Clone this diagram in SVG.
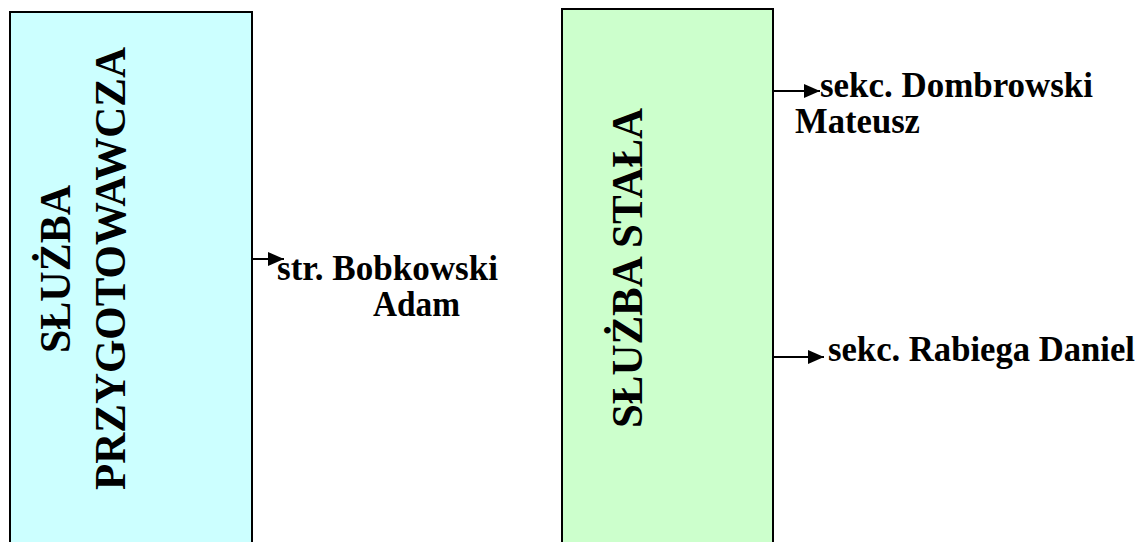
<svg xmlns="http://www.w3.org/2000/svg" width="1142" height="542" viewBox="0 0 1142 542">
<style>
.box{stroke:#000;stroke-width:2}
.title{font-family:"Liberation Serif","Times New Roman",serif;font-weight:bold;font-size:45px;fill:#000;text-anchor:middle}
.lbl{font-family:"Liberation Serif","Times New Roman",serif;font-weight:bold;font-size:35px;fill:#000}
.conn{stroke:#000;stroke-width:2;fill:none}
</style>
<defs>
<marker id="ah" markerUnits="userSpaceOnUse" markerWidth="16" markerHeight="14" refX="16" refY="7" orient="auto">
<path d="M0,0 L16,7 L0,14 Z" fill="#000"/>
</marker>
</defs>
<rect width="1142" height="542" fill="#fff"/>
<g id="node-przygotowawcza">
<rect class="box" x="10" y="12" width="242" height="540" fill="#CCFFFF"/>
<text class="title" transform="translate(70,269) rotate(-90)" textLength="168" lengthAdjust="spacingAndGlyphs">SŁUŻBA</text>
<text class="title" transform="translate(125,268.5) rotate(-90)" textLength="443" lengthAdjust="spacingAndGlyphs">PRZYGOTOWAWCZA</text>
</g>
<g id="node-stala">
<rect class="box" x="562" y="9" width="211" height="543" fill="#CCFFCC"/>
<text class="title" transform="translate(642,268) rotate(-90)" textLength="320" lengthAdjust="spacingAndGlyphs">SŁUŻBA STAŁA</text>
</g>
<g id="node-bobkowski">
<text class="lbl" x="277" y="280" textLength="221" lengthAdjust="spacingAndGlyphs">str. Bobkowski</text>
<text class="lbl" x="373" y="316" textLength="87" lengthAdjust="spacingAndGlyphs">Adam</text>
</g>
<g id="node-dombrowski">
<text class="lbl" x="820" y="97" textLength="273" lengthAdjust="spacingAndGlyphs">sekc. Dombrowski</text>
<text class="lbl" x="795" y="133" textLength="125" lengthAdjust="spacingAndGlyphs">Mateusz</text>
</g>
<g id="node-rabiega">
<text class="lbl" x="828" y="361" textLength="307" lengthAdjust="spacingAndGlyphs">sekc. Rabiega Daniel</text>
</g>
<g id="connectors">
<line class="conn" x1="252" y1="259" x2="284" y2="259" marker-end="url(#ah)"/>
<line class="conn" x1="773" y1="91" x2="820" y2="91" marker-end="url(#ah)"/>
<line class="conn" x1="773" y1="357" x2="824" y2="357" marker-end="url(#ah)"/>
</g>
</svg>
